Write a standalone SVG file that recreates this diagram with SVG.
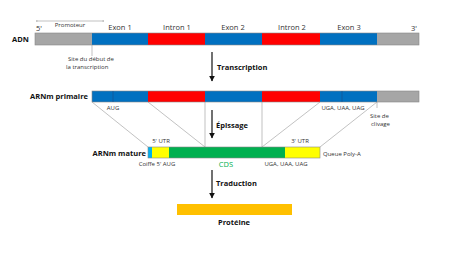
<svg xmlns="http://www.w3.org/2000/svg" width="454" height="255" viewBox="0 0 454 255">
<defs>
<style>
.t{font-family:"Open Sans","Liberation Sans",sans-serif;fill:#333}
.s{font-size:6px}
.m{font-size:7.5px}
.b{font-family:"Open Sans","Liberation Sans",sans-serif;font-weight:bold;font-size:7.5px;fill:#111}
.bd{stroke:#888;stroke-width:0.6}
.ln{stroke:#999;stroke-width:0.6;fill:none}
.ar{stroke:#111;stroke-width:1.2;fill:none}
</style>
<marker id="ah" viewBox="0 0 10 10" refX="9" refY="5" markerWidth="5" markerHeight="5" orient="auto"><path d="M0,0 L10,5 L0,10 z" fill="#111"/></marker>
<marker id="sa" viewBox="0 0 10 10" refX="9" refY="5" markerWidth="4" markerHeight="4" orient="auto-start-reverse"><path d="M0,0 L10,5 L0,10" fill="none" stroke="#999" stroke-width="1.5"/></marker>
</defs>
<rect width="454" height="255" fill="#fff"/>

<g id="adn">
<text class="b" x="12" y="42">ADN</text>
<rect x="35" y="33" width="57" height="12" fill="#A6A6A6"/>
<rect x="92" y="33" width="56" height="12" fill="#0070C0"/>
<rect x="148" y="33" width="57" height="12" fill="#FF0000"/>
<rect x="205" y="33" width="57" height="12" fill="#0070C0"/>
<rect x="262" y="33" width="58" height="12" fill="#FF0000"/>
<rect x="320" y="33" width="57" height="12" fill="#0070C0"/>
<rect x="377" y="33" width="42" height="12" fill="#A6A6A6"/>
<rect x="35" y="33" width="384" height="12" fill="none" class="bd"/>
<text class="t m" x="36" y="31">5'</text>
<text class="t m" x="411" y="31">3'</text>
<line x1="36" y1="21" x2="104" y2="21" class="ln" marker-start="url(#sa)" marker-end="url(#sa)"/>
<text class="t s" x="70" y="27" text-anchor="middle">Promoteur</text>
<text class="t m" x="120" y="30" text-anchor="middle">Exon 1</text>
<text class="t m" x="177" y="30" text-anchor="middle">Intron 1</text>
<text class="t m" x="233" y="30" text-anchor="middle">Exon 2</text>
<text class="t m" x="292" y="30" text-anchor="middle">Intron 2</text>
<text class="t m" x="349" y="30" text-anchor="middle">Exon 3</text>
<line x1="92" y1="45" x2="92" y2="56" class="ln"/>
<text class="t s" x="68" y="61">Site du début de</text>
<text class="t s" x="66" y="69">la transcription</text>
</g>

<g id="arnm-primaire">
<text class="b" x="88" y="99" text-anchor="end">ARNm primaire</text>
<rect x="92" y="91" width="56" height="11" fill="#0070C0"/>
<rect x="148" y="91" width="57" height="11" fill="#FF0000"/>
<rect x="205" y="91" width="57" height="11" fill="#0070C0"/>
<rect x="262" y="91" width="58" height="11" fill="#FF0000"/>
<rect x="320" y="91" width="57" height="11" fill="#0070C0"/>
<rect x="377" y="91" width="42" height="11" fill="#A6A6A6"/>
<rect x="92" y="91" width="327" height="11" fill="none" class="bd"/>
<line x1="113" y1="91" x2="113" y2="102" stroke="#1a4f86" stroke-width="0.6"/>
<line x1="342" y1="91" x2="342" y2="102" stroke="#1a4f86" stroke-width="0.6"/>
<text class="t s" x="113" y="110" text-anchor="middle">AUG</text>
<text class="t s" x="343" y="110" text-anchor="middle">UGA, UAA, UAG</text>
<line x1="377" y1="102" x2="377" y2="108" class="ln"/>
<text class="t s" x="370" y="118">Site de</text>
<text class="t s" x="371" y="126">clivage</text>
</g>

<g id="arnm-mature">
<text class="b" x="146" y="156" text-anchor="end">ARNm mature</text>
<rect x="148" y="147" width="4" height="11" fill="#00B0F0"/>
<rect x="152" y="147" width="17" height="11" fill="#FFFF00"/>
<rect x="169" y="147" width="116" height="11" fill="#00B050"/>
<rect x="285" y="147" width="35" height="11" fill="#FFFF00"/>
<rect x="148" y="147" width="172" height="11" fill="none" class="bd"/>
<text class="t s" x="161" y="143" text-anchor="middle">5' UTR</text>
<text class="t s" x="300" y="143" text-anchor="middle">3' UTR</text>
<text class="t s" x="157" y="166" text-anchor="middle">Coiffe 5' AUG</text>
<text class="m" x="226" y="167" text-anchor="middle" font-family="Open Sans, Liberation Sans, sans-serif" fill="#00B050">CDS</text>
<text class="t s" x="286" y="166" text-anchor="middle">UGA, UAA, UAG</text>
<text class="t s" x="323" y="156">Queue Poly-A</text>
</g>

<g id="proteine">
<rect x="177" y="204" width="115" height="11" fill="#FFC000"/>
<text class="b" x="234" y="225" text-anchor="middle">Protéine</text>
</g>

<g id="connectors">
<line x1="92" y1="102" x2="148" y2="147" class="ln"/>
<line x1="148" y1="102" x2="205" y2="147" class="ln"/>
<line x1="205" y1="102" x2="205" y2="147" class="ln"/>
<line x1="262" y1="102" x2="262" y2="147" class="ln"/>
<line x1="320" y1="102" x2="262" y2="147" class="ln"/>
<line x1="377" y1="102" x2="320" y2="147" class="ln"/>
<line x1="212" y1="52" x2="212" y2="81" class="ar" marker-end="url(#ah)"/>
<text class="b" x="217" y="70">Transcription</text>
<line x1="212" y1="110" x2="212" y2="138" class="ar" marker-end="url(#ah)"/>
<text class="b" x="216" y="128">Épissage</text>
<line x1="212" y1="170" x2="212" y2="198" class="ar" marker-end="url(#ah)"/>
<text class="b" x="216" y="186">Traduction</text>
</g>
</svg>
